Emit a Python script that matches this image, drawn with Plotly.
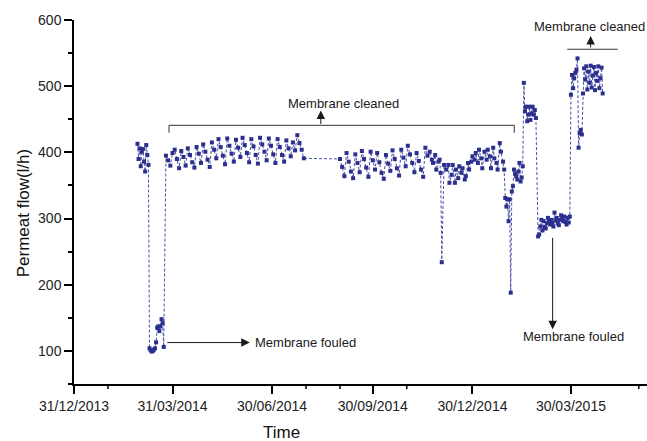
import plotly.graph_objects as go

# ---------------------------------------------------------------------------
# Permeate flow record (l/h), grouped by operating period
# ---------------------------------------------------------------------------

# start-up period before the first fouling event
startup_dates = ["2014-02-27", "2014-02-28", "2014-03-01", "2014-03-02", "2014-03-03",
                 "2014-03-04", "2014-03-05", "2014-03-06", "2014-03-07", "2014-03-08",
                 "2014-03-09"]
startup_flow = [413, 390, 406, 379, 401, 405, 386, 371, 411, 396, 381]

# fouled membrane
fouled_dates = ["2014-03-10", "2014-03-11", "2014-03-12", "2014-03-13", "2014-03-14",
                "2014-03-15", "2014-03-16", "2014-03-17", "2014-03-18", "2014-03-19",
                "2014-03-20", "2014-03-21", "2014-03-22", "2014-03-23"]
fouled_flow = [104, 101, 99, 100, 102, 104, 113, 135, 137, 130, 137, 148, 142, 106]

# after cleaning, spring / summer 2014
spring_dates = ["2014-03-25", "2014-03-27", "2014-03-29", "2014-03-31", "2014-04-02",
                "2014-04-04", "2014-04-06", "2014-04-08", "2014-04-10", "2014-04-12",
                "2014-04-14", "2014-04-16", "2014-04-18", "2014-04-20", "2014-04-22",
                "2014-04-24", "2014-04-26", "2014-04-28", "2014-04-30", "2014-05-02",
                "2014-05-04", "2014-05-06", "2014-05-08", "2014-05-10", "2014-05-12",
                "2014-05-14", "2014-05-16", "2014-05-18", "2014-05-20", "2014-05-22",
                "2014-05-24", "2014-05-26", "2014-05-28", "2014-05-30", "2014-06-01",
                "2014-06-03", "2014-06-05", "2014-06-07", "2014-06-09", "2014-06-11",
                "2014-06-13", "2014-06-15", "2014-06-17", "2014-06-19", "2014-06-21",
                "2014-06-23", "2014-06-25", "2014-06-27", "2014-06-29", "2014-07-01",
                "2014-07-03", "2014-07-05", "2014-07-07", "2014-07-09", "2014-07-11",
                "2014-07-13", "2014-07-15", "2014-07-17", "2014-07-19", "2014-07-21",
                "2014-07-23", "2014-07-25", "2014-07-27", "2014-07-29"]
spring_flow = [395, 388, 380, 399, 404, 390, 376, 402, 393, 380,
               406, 396, 385, 377, 408, 398, 384, 412, 401, 389,
               378, 415, 404, 391, 420, 408, 395, 382, 421, 410,
               398, 386, 419, 407, 393, 422, 411, 399, 385, 420,
               409, 396, 383, 422, 412, 401, 388, 421, 410, 397,
               384, 420, 408, 396, 386, 418, 406, 394, 415, 403,
               426, 414, 404, 391]

# autumn 2014
autumn_dates = ["2014-08-31", "2014-09-02", "2014-09-04", "2014-09-06", "2014-09-08",
                "2014-09-10", "2014-09-12", "2014-09-14", "2014-09-16", "2014-09-18",
                "2014-09-20", "2014-09-22", "2014-09-24", "2014-09-26", "2014-09-28",
                "2014-09-30", "2014-10-02", "2014-10-04", "2014-10-06", "2014-10-08",
                "2014-10-10", "2014-10-12", "2014-10-14", "2014-10-16", "2014-10-18",
                "2014-10-20", "2014-10-22", "2014-10-24", "2014-10-26", "2014-10-28",
                "2014-10-30", "2014-11-01", "2014-11-03", "2014-11-05", "2014-11-07",
                "2014-11-09", "2014-11-11", "2014-11-13", "2014-11-15"]
autumn_flow = [390, 378, 364, 399, 386, 371, 361, 397, 384, 370,
               402, 390, 377, 363, 401, 388, 374, 399, 385, 369,
               360, 396, 383, 372, 403, 390, 376, 365, 404, 392,
               379, 410, 397, 384, 370, 399, 387, 374, 363]

# winter 2014/2015
winter_dates = ["2014-11-17", "2014-11-19", "2014-11-21", "2014-11-23", "2014-11-24",
                "2014-11-26", "2014-11-27", "2014-11-29", "2014-11-30", "2014-12-01",
                "2014-12-02", "2014-12-04", "2014-12-06", "2014-12-08", "2014-12-09",
                "2014-12-11", "2014-12-12", "2014-12-14", "2014-12-15", "2014-12-17",
                "2014-12-18", "2014-12-20", "2014-12-21", "2014-12-23", "2014-12-24",
                "2014-12-26", "2014-12-27", "2014-12-29", "2014-12-30", "2015-01-01",
                "2015-01-02", "2015-01-04", "2015-01-05", "2015-01-07", "2015-01-08",
                "2015-01-10", "2015-01-12", "2015-01-13", "2015-01-15", "2015-01-16",
                "2015-01-18", "2015-01-19", "2015-01-21", "2015-01-22", "2015-01-24",
                "2015-01-25", "2015-01-27", "2015-01-28"]
winter_flow = [407, 395, 401, 389, 384, 396, 374, 386, 389, 369,
               234, 381, 374, 381, 354, 366, 381, 354, 374, 361,
               379, 369, 376, 359, 364, 384, 374, 386, 394, 389,
               399, 384, 404, 391, 376, 401, 389, 404, 394, 376,
               407, 391, 384, 374, 414, 401, 386, 374]

# early 2015: second fouling, cleaning and recovery
late_dates = ["2015-01-29", "2015-01-30", "2015-01-31", "2015-02-01", "2015-02-02",
              "2015-02-03", "2015-02-04", "2015-02-05", "2015-02-06", "2015-02-07",
              "2015-02-08", "2015-02-09", "2015-02-10", "2015-02-11", "2015-02-12",
              "2015-02-13", "2015-02-14", "2015-02-15", "2015-02-16", "2015-02-17",
              "2015-02-18", "2015-02-19", "2015-02-20", "2015-02-21", "2015-02-22",
              "2015-02-23", "2015-02-24", "2015-02-25", "2015-02-26", "2015-02-28",
              "2015-03-01", "2015-03-02", "2015-03-03", "2015-03-04", "2015-03-05",
              "2015-03-06", "2015-03-07", "2015-03-08", "2015-03-09", "2015-03-10",
              "2015-03-11", "2015-03-12", "2015-03-13", "2015-03-14", "2015-03-15",
              "2015-03-16", "2015-03-17", "2015-03-18", "2015-03-19", "2015-03-20",
              "2015-03-21", "2015-03-22", "2015-03-23", "2015-03-24", "2015-03-25",
              "2015-03-26", "2015-03-27", "2015-03-28", "2015-03-29", "2015-03-30",
              "2015-03-31", "2015-04-01", "2015-04-02", "2015-04-03", "2015-04-04",
              "2015-04-05", "2015-04-06", "2015-04-07", "2015-04-08", "2015-04-09",
              "2015-04-10", "2015-04-11", "2015-04-12", "2015-04-13", "2015-04-14",
              "2015-04-15", "2015-04-16", "2015-04-17", "2015-04-18", "2015-04-19",
              "2015-04-20", "2015-04-21", "2015-04-22", "2015-04-23", "2015-04-24",
              "2015-04-25", "2015-04-26", "2015-04-27", "2015-04-28"]
late_flow = [331, 318, 329, 296, 329, 188, 341, 349, 374, 368,
             364, 359, 371, 384, 356, 362, 379, 505, 462, 469,
             447, 457, 469, 449, 459, 469, 457, 464, 452, 273,
             276, 288, 298, 282, 296, 287, 285, 293, 301, 296,
             291, 298, 293, 288, 309, 297, 301, 293, 290, 298,
             305, 300, 296, 303, 295, 291, 301, 294, 303, 487,
             517, 497, 512, 520, 525, 542, 407, 429, 434, 427,
             489, 527, 510, 530, 495, 522, 505, 531, 498, 516,
             529, 494, 520, 508, 530, 497, 512, 528, 489]

dates = startup_dates + fouled_dates + spring_dates + autumn_dates + winter_dates + late_dates
flow = startup_flow + fouled_flow + spring_flow + autumn_flow + winter_flow + late_flow

# axis ticks
x_tick_dates = ["2013-12-31", "2014-03-31", "2014-06-30", "2014-09-30", "2014-12-30", "2015-03-30"]
x_tick_labels = ["31/12/2013", "31/03/2014", "30/06/2014", "30/09/2014", "30/12/2014", "30/03/2015"]
x_minor_dates = ["2014-01-31", "2014-07-31", "2014-08-31", "2014-10-31", "2015-05-31"]
y_tick_vals = [100, 200, 300, 400, 500, 600]

# ---------------------------------------------------------------------------
FONT = "Liberation Sans, Arial, sans-serif"
INK = "#1a1a1a"
SERIES = "#2b2f8e"

fig = go.Figure()
fig.add_trace(go.Scatter(
    x=dates, y=flow,
    mode="lines+markers",
    line=dict(color="#4a4fa6", width=1, dash="3px,2px"),
    marker=dict(symbol="square", size=4, color=SERIES, line=dict(width=0)),
    hoverinfo="x+y",
))

# minor ticks on the time axis
shapes = []
for d in x_minor_dates:
    shapes.append(dict(type="line", xref="x", yref="paper", x0=d, x1=d,
                       y0=0, y1=-0.014, line=dict(color="black", width=1.5)))

# bracket marking the cleaned period in 2014
br_left, br_right = "2014-03-27 19:00", "2015-02-06 05:00"
br_top, br_foot = 440.9, 429.6
for seg in [(br_left, br_left, br_foot, br_top),
            (br_left, br_right, br_top, br_top),
            (br_right, br_right, br_foot, br_top)]:
    shapes.append(dict(type="line", xref="x", yref="y", x0=seg[0], x1=seg[1],
                       y0=seg[2], y1=seg[3], line=dict(color="#333333", width=1)))

# bar for the 2015 cleaning
shapes.append(dict(type="line", xref="x", yref="y", x0="2015-03-26 14:00",
                   x1="2015-05-11 17:00", y0=555.8, y1=555.8,
                   line=dict(color="#333333", width=1)))

arrow_style = dict(showarrow=True, arrowhead=2, arrowsize=1.7, arrowwidth=1,
                   arrowcolor=INK, standoff=0, startstandoff=0, text="")
label_font = dict(family=FONT, size=13, color=INK)

annotations = [
    # arrows
    dict(x="2014-08-13 12:00", y=463.3, xref="x", yref="y", ax=0, ay=15, **arrow_style),
    dict(x="2015-04-17 00:00", y=575.9, xref="x", yref="y", ax=0, ay=13, **arrow_style),
    dict(x="2014-06-09 14:00", y=112.6, xref="x", yref="y", ax=-84, ay=0, **arrow_style),
    dict(x="2015-03-13 07:00", y=132.6, xref="x", yref="y", ax=0, ay=-93, **arrow_style),
    # labels
    dict(x="2014-07-12 12:00", y=473.4, xref="x", yref="y", text="Membrane cleaned",
         showarrow=False, xanchor="left", yanchor="middle", font=label_font),
    dict(x="2015-02-22 02:00", y=589.9, xref="x", yref="y", text="Membrane cleaned",
         showarrow=False, xanchor="left", yanchor="middle", font=label_font),
    dict(x="2014-06-12 21:00", y=112.6, xref="x", yref="y", text="Membrane fouled",
         showarrow=False, xanchor="left", yanchor="middle", font=label_font),
    dict(x="2015-02-12 00:00", y=122.5, xref="x", yref="y", text="Membrane fouled",
         showarrow=False, xanchor="left", yanchor="middle", font=label_font),
    # axis titles
    dict(x=-0.089, y=0.469, xref="paper", yref="paper", text="Permeat flow(l/h)",
         textangle=-90, showarrow=False, xanchor="center", yanchor="middle",
         font=dict(family=FONT, size=17, color="#111111")),
    dict(x=0.362, y=-0.132, xref="paper", yref="paper", text="Time",
         showarrow=False, xanchor="center", yanchor="middle",
         font=dict(family=FONT, size=17, color="#111111")),
]

tick_font = dict(family=FONT, size=14, color="#222222")

fig.update_layout(
    width=647, height=441,
    margin=dict(l=74, r=0, t=20, b=57),
    paper_bgcolor="white", plot_bgcolor="white",
    showlegend=False,
    shapes=shapes,
    annotations=annotations,
    xaxis=dict(
        type="date",
        range=["2013-12-31", "2015-06-07 12:00"],
        tickmode="array", tickvals=x_tick_dates, ticktext=x_tick_labels,
        ticks="outside", ticklen=8, tickwidth=1.5, tickcolor="black",
        showline=True, linecolor="black", linewidth=1.5,
        showgrid=False, zeroline=False, tickfont=tick_font,
    ),
    yaxis=dict(
        range=[50, 600],
        tickmode="array", tickvals=y_tick_vals,
        ticks="outside", ticklen=8, tickwidth=1.5, tickcolor="black",
        minor=dict(ticks="outside", ticklen=4, tickwidth=1.5, tickcolor="black",
                   dtick=50, tick0=0, showgrid=False),
        showline=True, linecolor="black", linewidth=1.5,
        showgrid=False, zeroline=False, tickfont=tick_font,
    ),
)

fig.write_html("out.html")
